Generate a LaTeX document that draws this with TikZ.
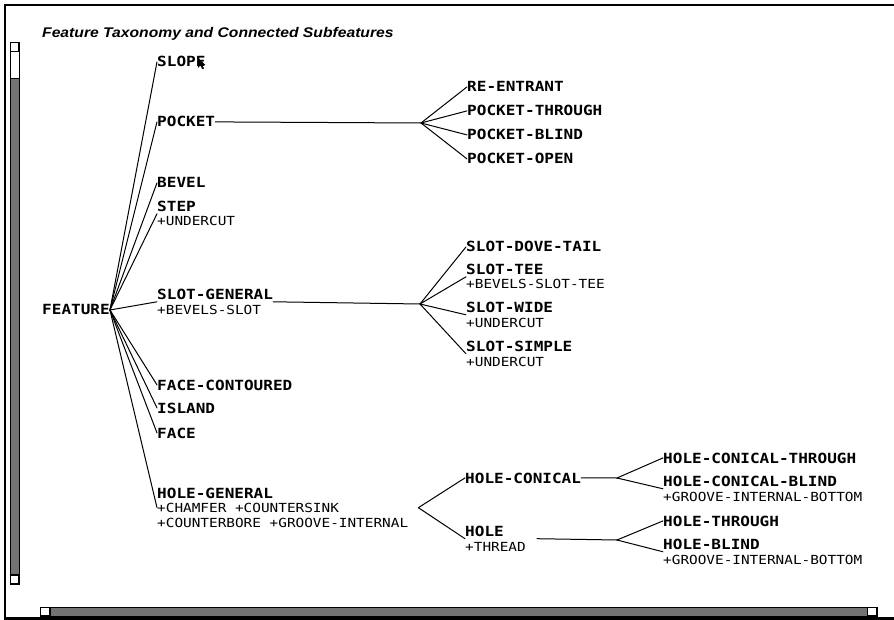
\documentclass[tikz,border=0pt]{standalone}
\usepackage{fontspec}
\newfontfamily\titlefnt[FakeStretch=1.12]{Liberation Sans}
\newfontfamily\lblfnt[FakeStretch=1.145]{DejaVu Sans Mono}
\newfontfamily\subfnt[FakeStretch=1.15]{DejaVu Sans Mono}
\newcommand\featfnt{\lblfnt\bfseries\fontsize{14}{14.2}\selectfont}
\newcommand\subln[1]{{\subfnt\mdseries\fontsize{12.5}{14.2}\selectfont #1}}
\begin{document}
\begin{tikzpicture}[x=1pt,y=-1pt,
  feat/.style={anchor=base west, inner sep=0pt, align=left, font=\featfnt},
  link/.style={line width=1pt, line cap=round},
  sbar/.style={draw=black, line width=0.8pt},
  thumb/.style={fill=black!55}]
\useasboundingbox (0,0) rectangle (894,620);
\clip (0,0) rectangle (894,620);
\fill[white] (0,0) rectangle (894,620);

% window frame
\draw[line width=2.5pt] (5,5) rectangle (910,618.5);

% vertical scroll bar
\draw[sbar, fill=white] (10,42) rectangle (19,584);
\draw[sbar, thumb] (10,78) rectangle (19,574);
\draw[sbar, fill=white] (10.5,42.5) rectangle (18.5,51);
\draw[sbar, fill=white] (10.5,575) rectangle (18.5,583.5);

% horizontal scroll bar
\draw[sbar, fill=white] (40,607) rectangle (877,616);
\draw[sbar, thumb] (50,607) rectangle (867,616);
\draw[sbar, fill=white] (40.5,607.5) rectangle (49.5,615.5);
\draw[sbar, fill=white] (867.5,607.5) rectangle (876.5,615.5);

% title
\node[anchor=base west, inner sep=0pt,
      font=\titlefnt\bfseries\itshape\fontsize{14}{16}\selectfont]
  (title) at (42,38) {Feature Taxonomy and Connected Subfeatures};

% root
\node[feat] (feature) at (42,315) {FEATURE};

% first level (multi-line nodes sit on the baseline of their last line)
\node[feat] (slope)    at (157,67)  {SLOPE};
\node[feat] (pocket)   at (157,127) {POCKET};
\node[feat] (bevel)    at (157,188) {BEVEL};
\node[feat] (step)     at (157,226) {STEP\\\subln{+UNDERCUT}};
\node[feat] (slotgen)  at (157,314) {SLOT-GENERAL\\\subln{+BEVELS-SLOT}};
\node[feat] (facecont) at (157,390) {FACE-CONTOURED};
\node[feat] (island)   at (157,413) {ISLAND};
\node[feat] (face)     at (157,438) {FACE};
\node[feat] (holegen)  at (157,527) {HOLE-GENERAL\\\subln{+CHAMFER +COUNTERSINK}\\\subln{+COUNTERBORE +GROOVE-INTERNAL}};

% pocket subtypes
\node[feat] (reent)   at (467,92)  {RE-ENTRANT};
\node[feat] (pthru)   at (467,116) {POCKET-THROUGH};
\node[feat] (pblind)  at (467,140) {POCKET-BLIND};
\node[feat] (popen)   at (467,164) {POCKET-OPEN};

% slot subtypes
\node[feat] (dove)    at (466,252) {SLOT-DOVE-TAIL};
\node[feat] (tee)     at (466,289) {SLOT-TEE\\\subln{+BEVELS-SLOT-TEE}};
\node[feat] (wide)    at (466,327) {SLOT-WIDE\\\subln{+UNDERCUT}};
\node[feat] (simple)  at (466,366) {SLOT-SIMPLE\\\subln{+UNDERCUT}};

% hole subtypes
\node[feat] (hcon)    at (465,483) {HOLE-CONICAL};
\node[feat] (hole)    at (465,551) {HOLE\\\subln{+THREAD}};
\node[feat] (hcthru)  at (663,463) {HOLE-CONICAL-THROUGH};
\node[feat] (hcblind) at (663,501) {HOLE-CONICAL-BLIND\\\subln{+GROOVE-INTERNAL-BOTTOM}};
\node[feat] (hthru)   at (663,526) {HOLE-THROUGH};
\node[feat] (hblind)  at (663,564) {HOLE-BLIND\\\subln{+GROOVE-INTERNAL-BOTTOM}};

% branch points
\coordinate (pfork)  at (421,123);
\coordinate (sfork)  at (420,304);
\coordinate (hgfork) at ([xshift=10pt]holegen.east);
\coordinate (hcfork) at (617,478);
\coordinate (hstart) at ([xshift=11pt]hole.east);
\coordinate (hfork)  at (617,540);

% connectors from the root
\foreach \n in {slope,pocket,bevel,step,slotgen,facecont,island,face,holegen}
  \draw[link] (feature.east) -- (\n.west);

% pocket branch
\draw[link] (pocket.east) -- (pfork);
\foreach \n in {reent,pthru,pblind,popen}
  \draw[link] (pfork) -- (\n.west);

% slot branch
\draw[link] (slotgen.east) -- (sfork);
\foreach \n in {dove,tee,wide,simple}
  \draw[link] (sfork) -- (\n.west);

% hole branch
\draw[link] (hgfork) -- (hcon.west);
\draw[link] (hgfork) -- (hole.west);
\draw[link] (hcon.east) -- (hcfork);
\draw[link] (hcfork) -- (hcthru.west);
\draw[link] (hcfork) -- (hcblind.west);
\draw[link] (hstart) -- (hfork);
\draw[link] (hfork) -- (hthru.west);
\draw[link] (hfork) -- (hblind.west);

% mouse pointer
\fill[black] (198,58) -- (198,68) -- (200.4,65.6) -- (202.4,69.2) -- (204,68.4)
  -- (202.1,64.9) -- (205.3,64.9) -- cycle;
\end{tikzpicture}
\end{document}
